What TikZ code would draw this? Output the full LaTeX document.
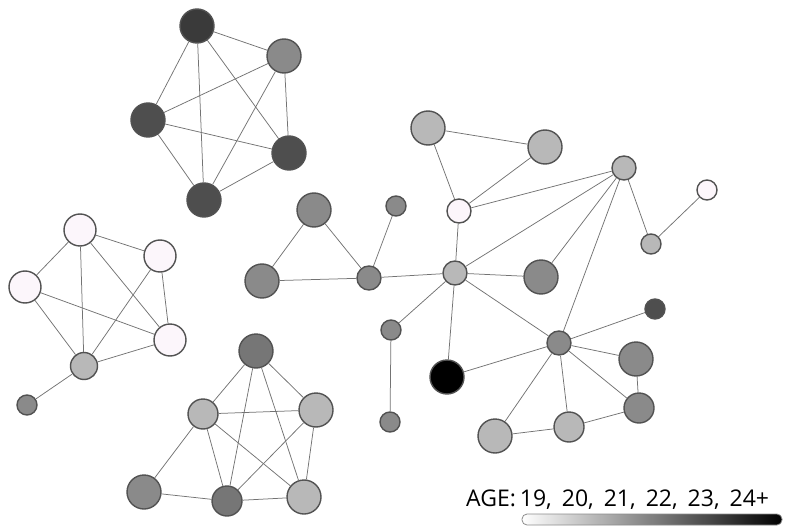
\documentclass[tikz,border=0pt]{standalone}
\usepackage{fontspec}
\setmainfont{Open Sans}
\begin{document}
\begin{tikzpicture}[x=1pt,y=-1pt,
  nd/.style={circle, draw=black!68, line width=1.4pt, inner sep=0pt, minimum size=#1},
  ln/.style={draw=black!55, line width=0.75pt},
  c19/.style={fill={rgb,255:red,252;green,246;blue,251}},
  c20/.style={fill={rgb,255:red,184;green,184;blue,184}},
  c21/.style={fill={rgb,255:red,138;green,138;blue,138}},
  c22/.style={fill={rgb,255:red,118;green,118;blue,118}},
  c23/.style={fill={rgb,255:red,78;green,78;blue,78}},
  c24/.style={fill={rgb,255:red,58;green,58;blue,58}},
  c25/.style={fill=black}]
\useasboundingbox (0,0) rectangle (803,532);

% --- top-left group ---
\node[nd=34,c24] (a1) at (197,26) {};
\node[nd=34,c21] (a2) at (284,56) {};
\node[nd=34,c23] (a3) at (148,120) {};
\node[nd=34,c23] (a4) at (289,153) {};
\node[nd=34,c23] (a5) at (204,200) {};
\foreach \u/\v in {a1/a2,a1/a3,a1/a4,a1/a5,a2/a3,a2/a4,a2/a5,a3/a4,a3/a5,a4/a5}
  \draw[ln] (\u) -- (\v);

% --- left group ---
\node[nd=32,c19] (b1) at (80,230) {};
\node[nd=32,c19] (b2) at (160,256) {};
\node[nd=32,c19] (b3) at (25,287) {};
\node[nd=32,c19] (b4) at (170,340) {};
\node[nd=27,c20] (b5) at (84,366) {};
\node[nd=20,c21] (b6) at (27,405) {};
\foreach \u/\v in {b1/b2,b1/b3,b1/b4,b1/b5,b2/b4,b2/b5,b3/b4,b3/b5,b4/b5,b5/b6}
  \draw[ln] (\u) -- (\v);

% --- bottom group ---
\node[nd=34,c22] (c1) at (256,351) {};
\node[nd=30,c20] (c2) at (203,414) {};
\node[nd=34,c20] (c3) at (316,410) {};
\node[nd=34,c21] (c4) at (144,492) {};
\node[nd=30,c22] (c5) at (227,501) {};
\node[nd=34,c20] (c6) at (304,497) {};
\foreach \u/\v in {c1/c2,c1/c3,c1/c5,c1/c6,c2/c3,c2/c4,c2/c5,c2/c6,c3/c5,c3/c6,c4/c5,c5/c6}
  \draw[ln] (\u) -- (\v);

% --- central network ---
\node[nd=34,c21] (d1) at (314,210) {};
\node[nd=34,c21] (d2) at (262,281) {};
\node[nd=24,c21] (d3) at (369,278) {};
\node[nd=20,c21] (d4) at (396,206) {};
\node[nd=24,c20] (h)  at (455,273) {};
\node[nd=34,c20] (e1) at (428,128) {};
\node[nd=34,c20] (e2) at (545,147) {};
\node[nd=24,c19] (w)  at (459,211) {};
\node[nd=24,c20] (f)  at (624,168) {};
\node[nd=20,c19] (g1) at (707,190) {};
\node[nd=20,c20] (g2) at (651,244) {};
\node[nd=34,c21] (e3) at (541,277) {};
\node[nd=20,c21] (i1) at (391,330) {};
\node[nd=20,c21] (i2) at (390,422) {};
\node[nd=34,c25] (k)  at (447,377) {};
\node[nd=24,c21] (m)  at (559,343) {};
\node[nd=20,c23] (n1) at (655,309) {};
\node[nd=34,c21] (n2) at (636,359) {};
\node[nd=30,c21] (n3) at (639,408) {};
\node[nd=30,c20] (n4) at (569,427) {};
\node[nd=34,c20] (n5) at (495,436) {};
\foreach \u/\v in {d1/d2,d1/d3,d2/d3,d3/d4,d3/h,e1/e2,e1/w,e2/w,w/f,w/h,f/h,f/e3,f/m,f/g2,g2/g1,
  h/e3,h/i1,h/k,h/m,i1/i2,k/m,m/n1,m/n2,m/n3,m/n4,m/n5,n2/n3,n3/n4,n4/n5}
  \draw[ln] (\u) -- (\v);

% --- legend ---
\node[anchor=base west, inner sep=0pt, font=\fontsize{23}{25}\selectfont] (age) at (466,506)
  {AGE:\hspace{4pt}19,\hspace{10pt}20,\hspace{10pt}21,\hspace{10pt}22,\hspace{10pt}23,\hspace{10pt}24+};
\node[draw=black!45, line width=0.8pt, rounded corners=5pt, minimum width=260pt, minimum height=11pt,
  inner sep=0pt, left color=white, right color=black] (bar) at (652,519.5) {};
\end{tikzpicture}
\end{document}
